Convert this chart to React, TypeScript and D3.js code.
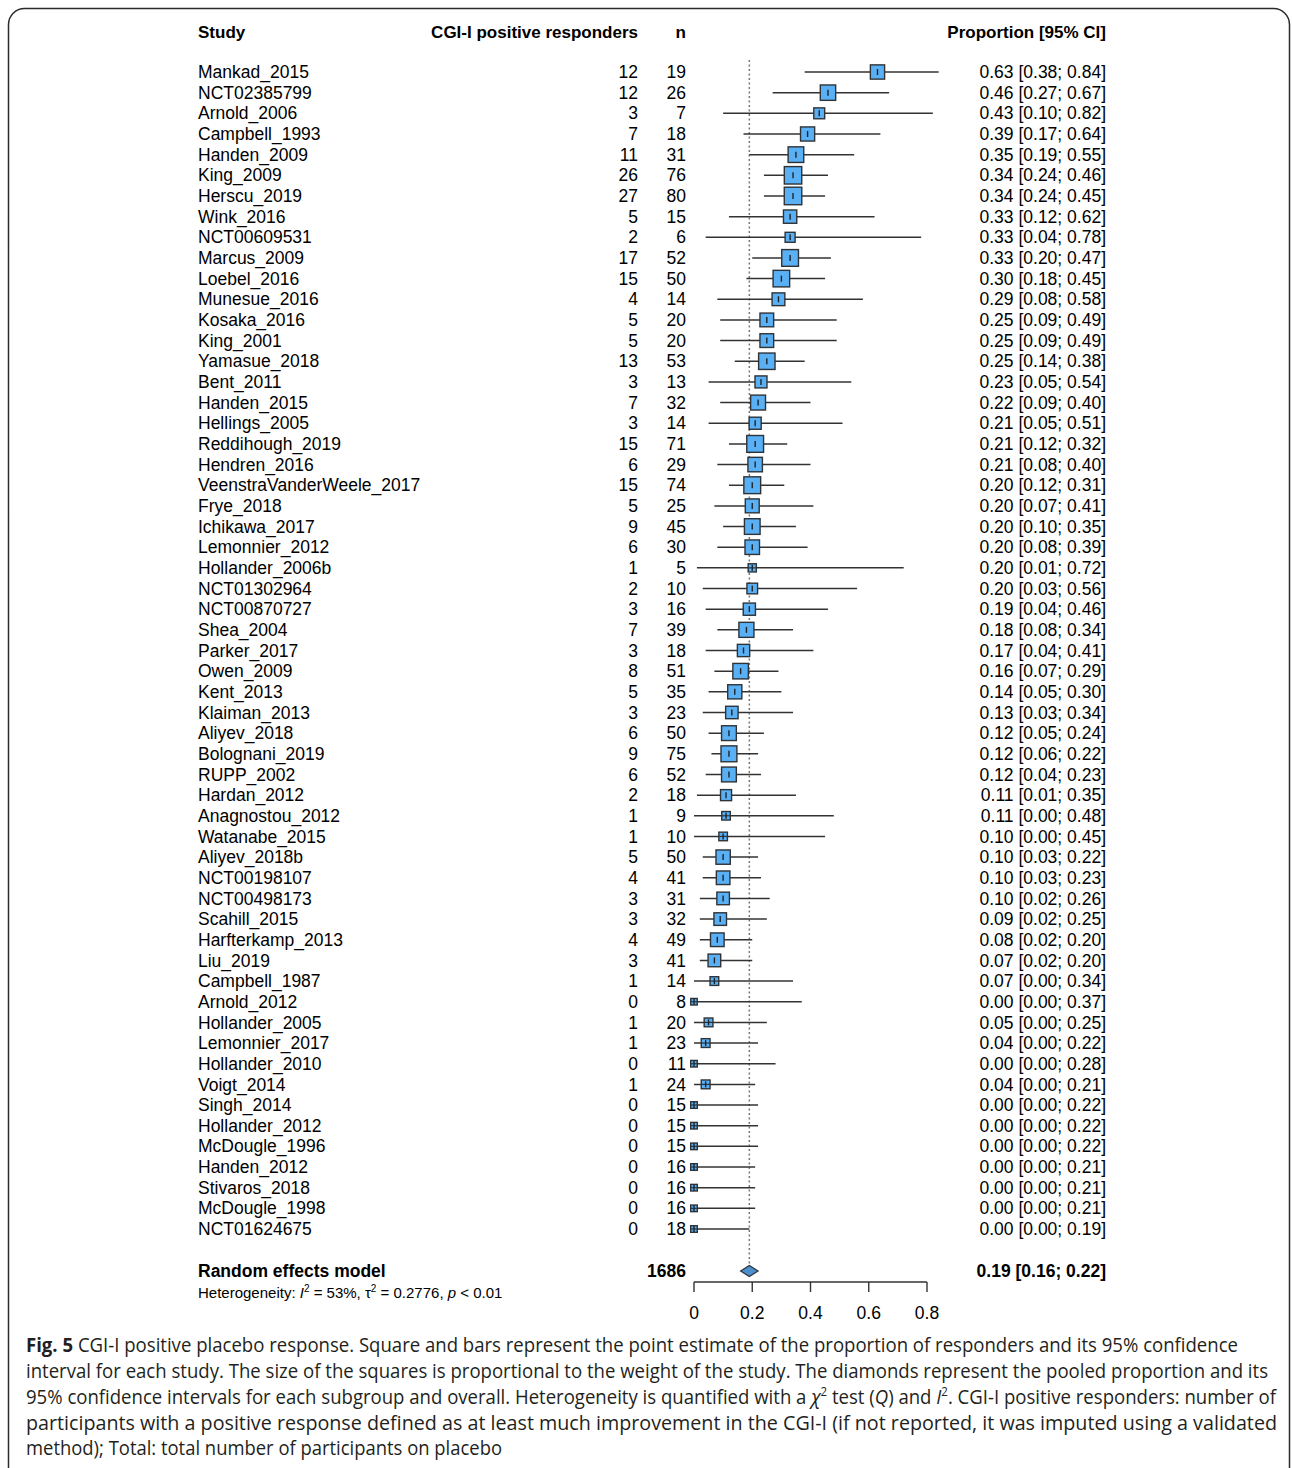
import React from "react";
import * as d3 from "d3";

// Study-level placebo responder data
const studies = [
  "Mankad_2015", "NCT02385799", "Arnold_2006", "Campbell_1993", "Handen_2009", "King_2009",
  "Herscu_2019", "Wink_2016", "NCT00609531", "Marcus_2009", "Loebel_2016", "Munesue_2016",
  "Kosaka_2016", "King_2001", "Yamasue_2018", "Bent_2011", "Handen_2015", "Hellings_2005",
  "Reddihough_2019", "Hendren_2016", "VeenstraVanderWeele_2017", "Frye_2018", "Ichikawa_2017",
  "Lemonnier_2012", "Hollander_2006b", "NCT01302964", "NCT00870727", "Shea_2004", "Parker_2017",
  "Owen_2009", "Kent_2013", "Klaiman_2013", "Aliyev_2018", "Bolognani_2019", "RUPP_2002",
  "Hardan_2012", "Anagnostou_2012", "Watanabe_2015", "Aliyev_2018b", "NCT00198107", "NCT00498173",
  "Scahill_2015", "Harfterkamp_2013", "Liu_2019", "Campbell_1987", "Arnold_2012", "Hollander_2005",
  "Lemonnier_2017", "Hollander_2010", "Voigt_2014", "Singh_2014", "Hollander_2012", "McDougle_1996",
  "Handen_2012", "Stivaros_2018", "McDougle_1998", "NCT01624675",
];
const responders = [
  12, 12, 3, 7, 11, 26, 27, 5, 2, 17, 15, 4, 5, 5, 13, 3, 7, 3, 15, 6, 15, 5, 9, 6, 1, 2, 3, 7, 3,
  8, 5, 3, 6, 9, 6, 2, 1, 1, 5, 4, 3, 3, 4, 3, 1, 0, 1, 1, 0, 1, 0, 0, 0, 0, 0, 0, 0,
];
const totals = [
  19, 26, 7, 18, 31, 76, 80, 15, 6, 52, 50, 14, 20, 20, 53, 13, 32, 14, 71, 29, 74, 25, 45, 30, 5,
  10, 16, 39, 18, 51, 35, 23, 50, 75, 52, 18, 9, 10, 50, 41, 31, 32, 49, 41, 14, 8, 20, 23, 11, 24,
  15, 15, 15, 16, 16, 16, 18,
];
const proportion = [
  0.63, 0.46, 0.43, 0.39, 0.35, 0.34, 0.34, 0.33, 0.33, 0.33, 0.30, 0.29, 0.25, 0.25, 0.25, 0.23,
  0.22, 0.21, 0.21, 0.21, 0.20, 0.20, 0.20, 0.20, 0.20, 0.20, 0.19, 0.18, 0.17, 0.16, 0.14, 0.13,
  0.12, 0.12, 0.12, 0.11, 0.11, 0.10, 0.10, 0.10, 0.10, 0.09, 0.08, 0.07, 0.07, 0.00, 0.05, 0.04,
  0.00, 0.04, 0.00, 0.00, 0.00, 0.00, 0.00, 0.00, 0.00,
];
const lower = [
  0.38, 0.27, 0.10, 0.17, 0.19, 0.24, 0.24, 0.12, 0.04, 0.20, 0.18, 0.08, 0.09, 0.09, 0.14, 0.05,
  0.09, 0.05, 0.12, 0.08, 0.12, 0.07, 0.10, 0.08, 0.01, 0.03, 0.04, 0.08, 0.04, 0.07, 0.05, 0.03,
  0.05, 0.06, 0.04, 0.01, 0.00, 0.00, 0.03, 0.03, 0.02, 0.02, 0.02, 0.02, 0.00, 0.00, 0.00, 0.00,
  0.00, 0.00, 0.00, 0.00, 0.00, 0.00, 0.00, 0.00, 0.00,
];
const upper = [
  0.84, 0.67, 0.82, 0.64, 0.55, 0.46, 0.45, 0.62, 0.78, 0.47, 0.45, 0.58, 0.49, 0.49, 0.38, 0.54,
  0.40, 0.51, 0.32, 0.40, 0.31, 0.41, 0.35, 0.39, 0.72, 0.56, 0.46, 0.34, 0.41, 0.29, 0.30, 0.34,
  0.24, 0.22, 0.23, 0.35, 0.48, 0.45, 0.22, 0.23, 0.26, 0.25, 0.20, 0.20, 0.34, 0.37, 0.25, 0.22,
  0.28, 0.21, 0.22, 0.22, 0.22, 0.21, 0.21, 0.21, 0.19,
];

// Pooled random-effects estimate
const pooled = { est: 0.19, lo: 0.16, hi: 0.22, total: 1686 };
const tau2 = 0.2776;
const axisTicks = [0, 0.2, 0.4, 0.6, 0.8];

const captionLines = [
  "CGI-I positive placebo response. Square and bars represent the point estimate of the proportion of responders and its 95% confidence",
  "interval for each study. The size of the squares is proportional to the weight of the study. The diamonds represent the pooled proportion and its",
  "",
  "participants with a positive response defined as at least much improvement in the CGI-I (if not reported, it was imputed using a validated",
  "method); Total: total number of participants on placebo",
];

const W = 1292;
const H = 1468;
const FONT = "'Liberation Sans', Arial, sans-serif";
const CAP_FONT = "'Open Sans', 'Noto Sans', sans-serif";
const FS = 17.5;

const x = d3.scaleLinear().domain([0, 0.8]).range([694, 927]);
const rowY = d3
  .scalePoint<number>()
  .domain(d3.range(studies.length))
  .range([72, 1229]);

// Random-effects weight on the logit scale (0.5 correction for zero cells)
const weights = responders.map((e, i) => {
  const n = totals[i];
  const inc = e === 0 || e === n ? 0.5 : 0;
  const v = 1 / (e + inc) + 1 / (n - e + inc);
  return 1 / (v + tau2);
});
const maxW = d3.max(weights) as number;
const side = d3.scaleSqrt().domain([0, maxW]).range([0, 17.5]);

const fmt = d3.format(".2f");

export default function App() {
  const pooledY = 1271;
  const axisY = 1282;
  return (
    <svg
      width={W}
      height={H}
      viewBox={`0 0 ${W} ${H}`}
      style={{ position: "absolute", left: 0, top: 0, background: "#fff" }}
      fontFamily={FONT}
    >
      <rect x={0} y={0} width={W} height={H} fill="#fff" />
      <rect
        x={8.5}
        y={8.5}
        width={1281}
        height={1500}
        rx={16}
        fill="none"
        stroke="#2b2b2b"
        strokeWidth={1.5}
      />

      {/* header */}
      <g fontWeight="bold" fontSize={17} fill="#000">
        <text x={198} y={32} dy="0.35em">Study</text>
        <text x={638} y={32} dy="0.35em" textAnchor="end">CGI-I positive responders</text>
        <text x={686} y={32} dy="0.35em" textAnchor="end">n</text>
        <text x={1106} y={32} dy="0.35em" textAnchor="end">Proportion [95% CI]</text>
      </g>

      {/* reference line at pooled estimate */}
      <line
        x1={x(pooled.est)}
        x2={x(pooled.est)}
        y1={60}
        y2={pooledY - 5}
        stroke="#777"
        strokeWidth={1.5}
        strokeDasharray="2,2.5"
      />

      {studies.map((s, i) => {
        const y = rowY(i) as number;
        const sz = side(weights[i]);
        const cx = x(proportion[i]);
        return (
          <g key={s}>
            <text x={198} y={y} dy="0.35em" fontSize={FS} fill="#000">{s}</text>
            <text x={638} y={y} dy="0.35em" fontSize={FS} textAnchor="end" fill="#000">
              {responders[i]}
            </text>
            <text x={686} y={y} dy="0.35em" fontSize={FS} textAnchor="end" fill="#000">
              {totals[i]}
            </text>
            <text x={1106} y={y} dy="0.35em" fontSize={FS} textAnchor="end" fill="#000">
              {`${fmt(proportion[i])} [${fmt(lower[i])}; ${fmt(upper[i])}]`}
            </text>
            <line x1={x(lower[i])} x2={x(upper[i])} y1={y} y2={y} stroke="#333" strokeWidth={1.5} />
            <rect
              x={cx - sz / 2}
              y={y - sz / 2}
              width={sz}
              height={sz}
              fill="#5ab0f5"
              stroke="#2e3338"
              strokeWidth={1.4}
            />
            {sz < 9 && (
              <line x1={cx - sz / 2} x2={cx + sz / 2} y1={y} y2={y} stroke="#2e3338" strokeWidth={1.2} />
            )}
            <line x1={cx} x2={cx} y1={y - 3} y2={y + 3} stroke="#1e2328" strokeWidth={1.4} />
          </g>
        );
      })}

      {/* pooled row */}
      <g fontWeight="bold" fontSize={FS} fill="#000">
        <text x={198} y={pooledY} dy="0.35em">Random effects model</text>
        <text x={686} y={pooledY} dy="0.35em" textAnchor="end">{pooled.total}</text>
        <text x={1106} y={pooledY} dy="0.35em" textAnchor="end">
          {`${fmt(pooled.est)} [${fmt(pooled.lo)}; ${fmt(pooled.hi)}]`}
        </text>
      </g>
      <polygon
        points={[
          [x(pooled.lo), pooledY],
          [x(pooled.est), pooledY - 5.5],
          [x(pooled.hi), pooledY],
          [x(pooled.est), pooledY + 5.5],
        ]
          .map((p) => p.join(","))
          .join(" ")}
        fill="#4d8fcc"
        stroke="#2e3338"
        strokeWidth={1.2}
      />
      <text x={198} y={1293} dy="0.35em" fontSize={15} fill="#000">
        Heterogeneity: <tspan fontStyle="italic">I</tspan>
        <tspan fontSize={10} dy={-6}>2</tspan>
        <tspan dy={6}> = 53%, τ</tspan>
        <tspan fontSize={10} dy={-6}>2</tspan>
        <tspan dy={6}> = 0.2776, </tspan>
        <tspan fontStyle="italic">p</tspan> &lt; 0.01
      </text>

      {/* axis */}
      <line x1={x(0)} x2={x(0.8)} y1={axisY} y2={axisY} stroke="#333" strokeWidth={1.4} />
      {axisTicks.map((t) => (
        <g key={t}>
          <line x1={x(t)} x2={x(t)} y1={axisY} y2={axisY + 10} stroke="#333" strokeWidth={1.4} />
          <text x={x(t)} y={1313} dy="0.35em" textAnchor="middle" fontSize={FS} fill="#000">
            {d3.format("~g")(t)}
          </text>
        </g>
      ))}

      {/* caption */}
      <g fontFamily={CAP_FONT} fontSize={19.5} fill="#231f20">
        <text x={26} y={1352} textLength={1212} lengthAdjust="spacingAndGlyphs">
          <tspan fontWeight="bold">Fig. 5</tspan> {captionLines[0]}
        </text>
        <text x={26} y={1378} textLength={1242} lengthAdjust="spacingAndGlyphs">
          {captionLines[1]}
        </text>
        <text x={26} y={1404} textLength={1250} lengthAdjust="spacingAndGlyphs">
          95% confidence intervals for each subgroup and overall. Heterogeneity is quantified with a{" "}
          <tspan fontStyle="italic">χ</tspan>
          <tspan fontSize={12} dy={-8}>2</tspan>
          <tspan dy={8}> test (</tspan>
          <tspan fontStyle="italic">Q</tspan>
          <tspan>) and </tspan>
          <tspan fontStyle="italic">I</tspan>
          <tspan fontSize={12} dy={-8}>2</tspan>
          <tspan dy={8}>. CGI-I positive responders: number of</tspan>
        </text>
        <text x={26} y={1430} textLength={1251} lengthAdjust="spacingAndGlyphs">
          {captionLines[3]}
        </text>
        <text x={26} y={1455} textLength={476} lengthAdjust="spacingAndGlyphs">
          {captionLines[4]}
        </text>
      </g>
    </svg>
  );
}
